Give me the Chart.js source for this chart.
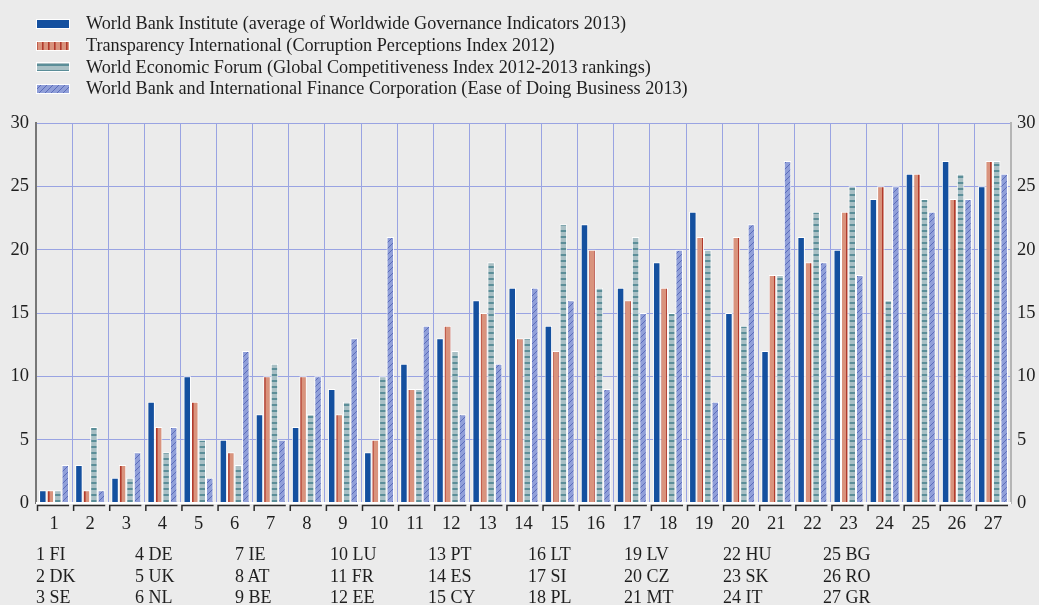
<!DOCTYPE html>
<html>
<head>
<meta charset="utf-8">
<script src="https://cdn.jsdelivr.net/npm/chart.js@4/dist/chart.umd.min.js"></script>
<style>
  body { margin: 0; background: #ebebeb; }
  #wrap { position: relative; width: 1039px; height: 605px; font-family: "Liberation Serif", "DejaVu Serif", serif; color: #1e1e1e; }
  canvas { position: absolute; left: 0; top: 0; }
  #legend { position: absolute; left: 36px; top: 13px; }
  .item { height: 21.7px; display: flex; align-items: center; font-size: 18.2px; white-space: nowrap; }
  .item canvas { position: static; margin-right: 16px; }
  #notes { position: absolute; left: 0; top: 544px; width: 1039px; font-size: 18px; }
  .col { position: absolute; top: 0; line-height: 21.5px; white-space: nowrap; }
</style>
</head>
<body>
<div id="wrap">
  <canvas id="chart" width="1039" height="605"></canvas>
  <div id="legend"></div>
  <div id="notes"></div>
</div>
<script>
const categories = ['1','2','3','4','5','6','7','8','9','10','11','12','13','14','15','16','17','18','19','20','21','22','23','24','25','26','27']
const countries = ['FI','DK','SE','DE','UK','NL','IE','AT','BE','LU','FR','EE','PT','ES','CY','LT','SI','PL','LV','CZ','MT','HU','SK','IT','BG','RO','GR']

const seriesNames = [
  'World Bank Institute (average of Worldwide Governance Indicators 2013)',
  'Transparency International (Corruption Perceptions Index 2012)',
  'World Economic Forum (Global Competitiveness Index 2012-2013 rankings)',
  'World Bank and International Finance Corporation (Ease of Doing Business 2013)'
]
const wbi  = [1,3,2,8,10,5,7,6,9,4,11,13,16,17,14,22,17,19,23,15,12,21,20,24,26,27,25]
const ti   = [1,1,3,6,8,4,10,10,7,5,9,14,15,13,12,20,16,17,21,21,18,19,23,25,26,24,27]
const wef  = [1,6,2,4,5,3,11,7,8,10,9,12,19,13,22,17,21,15,20,14,18,23,25,16,24,26,27]
const doing = [3,1,4,6,2,12,5,10,13,21,14,7,11,17,16,9,15,20,8,22,27,19,18,25,23,24,26]

const yTicks = [0,5,10,15,20,25,30]
const noteCols = [36,135,235,330,428,528,624,723,823]

function makePattern(kind){
    let c = document.createElement('canvas')
    c.width = 6; c.height = 6
    let p = c.getContext('2d')
    if (kind == 'solid'){
        p.fillStyle = '#14509f'; p.fillRect(0,0,6,6)
    } else if (kind == 'vert'){
        p.fillStyle = '#d9937d'; p.fillRect(0,0,6,6)
        p.fillStyle = '#b13a2c'; p.fillRect(0,0,1.6,6)
    } else if (kind == 'horiz'){
        p.fillStyle = '#a9c0c5'; p.fillRect(0,0,6,6)
        p.fillStyle = '#5b8e98'; p.fillRect(0,2,6,2)
    } else {
        p.fillStyle = '#909fd9'; p.fillRect(0,0,6,6)
        p.strokeStyle = '#4e5fb3'; p.lineWidth = 0.8
        p.beginPath()
        p.moveTo(0,6); p.lineTo(6,0)
        p.moveTo(-1,1); p.lineTo(1,-1)
        p.moveTo(5,7); p.lineTo(7,5)
        p.stroke()
    }
    return p.createPattern(c, 'repeat')
}

const kinds = ['solid','vert','horiz','diag']
const values = [wbi, ti, wef, doing]
const ctx = document.getElementById('chart').getContext('2d')
const fills = kinds.map(makePattern)

const datasets = values.map((v, i) => ({
    label: seriesNames[i],
    data: v,
    backgroundColor: fills[i],
    borderColor: '#ffffff',
    borderWidth: {top: 1, left: 1, right: 1, bottom: 0},
    borderSkipped: false,
    categoryPercentage: 0.83,
    barPercentage: 1.0
}))

// legend in html
const legend = document.getElementById('legend')
seriesNames.forEach((name, i) => {
    let row = document.createElement('div')
    row.className = 'item'
    let sw = document.createElement('canvas')
    sw.width = 34; sw.height = 10
    let s = sw.getContext('2d')
    s.fillStyle = '#ffffff'; s.fillRect(0,0,34,10)
    s.fillStyle = fills[i]; s.fillRect(1,1,32,8)
    row.appendChild(sw)
    row.appendChild(document.createTextNode(name))
    legend.appendChild(row)
})

// country key
const notes = document.getElementById('notes')
for (let c = 0; c < noteCols.length; c++){
    let col = document.createElement('div')
    col.className = 'col'
    col.style.left = noteCols[c] + 'px'
    let lines = []
    for (let r = 0; r < 3; r++){
        let k = c * 3 + r
        if (k < countries.length) lines.push(categories[k] + ' ' + countries[k])
    }
    col.innerHTML = lines.join('<br>')
    notes.appendChild(col)
}

const tickFont = {family: '"Liberation Serif", serif', size: 18.5}

const bracketPlugin = {
    id: 'brackets',
    afterDatasetsDraw(chart){
        const x = chart.scales.x
        const area = chart.chartArea
        const c = chart.ctx
        c.save()
        c.strokeStyle = '#ffffff'; c.lineWidth = 2
        c.beginPath(); c.moveTo(area.left, area.bottom); c.lineTo(area.right, area.bottom); c.stroke()
        c.strokeStyle = '#2a2a2a'; c.lineWidth = 1.5
        const half = (x.getPixelForValue(1) - x.getPixelForValue(0)) / 2
        for (let i = 0; i < categories.length; i++){
            const cx = x.getPixelForValue(i)
            const l = cx - half + 1.5, r = cx + half - 3
            c.beginPath()
            c.moveTo(l, area.bottom + 8)
            c.lineTo(l, area.bottom + 2.5)
            c.lineTo(r, area.bottom + 2.5)
            c.stroke()
        }
        c.restore()
    }
}

new Chart(ctx, {
    type: 'bar',
    data: { labels: categories, datasets: datasets },
    plugins: [bracketPlugin],
    options: {
        responsive: false,
        animation: false,
        layout: { padding: { top: 123, left: 0, right: 0, bottom: 0 } },
        plugins: { legend: { display: false }, tooltip: { enabled: false } },
        scales: {
            x: {
                grid: { color: '#99a3e2', lineWidth: 1, drawTicks: false, offset: true },
                border: { display: false },
                ticks: { font: tickFont, color: '#1e1e1e', padding: 10, maxRotation: 0, autoSkip: false },
                afterFit(scale){ scale.height = 102 }
            },
            y: {
                min: 0, max: 30,
                afterBuildTicks(scale){ scale.ticks = yTicks.map(v => ({value: v})) },
                grid: { color: '#99a3e2', lineWidth: 1, drawTicks: false },
                border: { color: '#777777', width: 2 },
                ticks: { font: tickFont, color: '#1e1e1e', padding: 7 },
                afterFit(scale){ scale.width = 36 }
            },
            y2: {
                position: 'right',
                min: 0, max: 30,
                afterBuildTicks(scale){ scale.ticks = yTicks.map(v => ({value: v})) },
                grid: { drawOnChartArea: false, drawTicks: false },
                border: { color: '#b5b5b5', width: 2 },
                ticks: { font: tickFont, color: '#1e1e1e', padding: 6 },
                afterFit(scale){ scale.width = 28 }
            }
        }
    }
})
</script>
</body>
</html>
